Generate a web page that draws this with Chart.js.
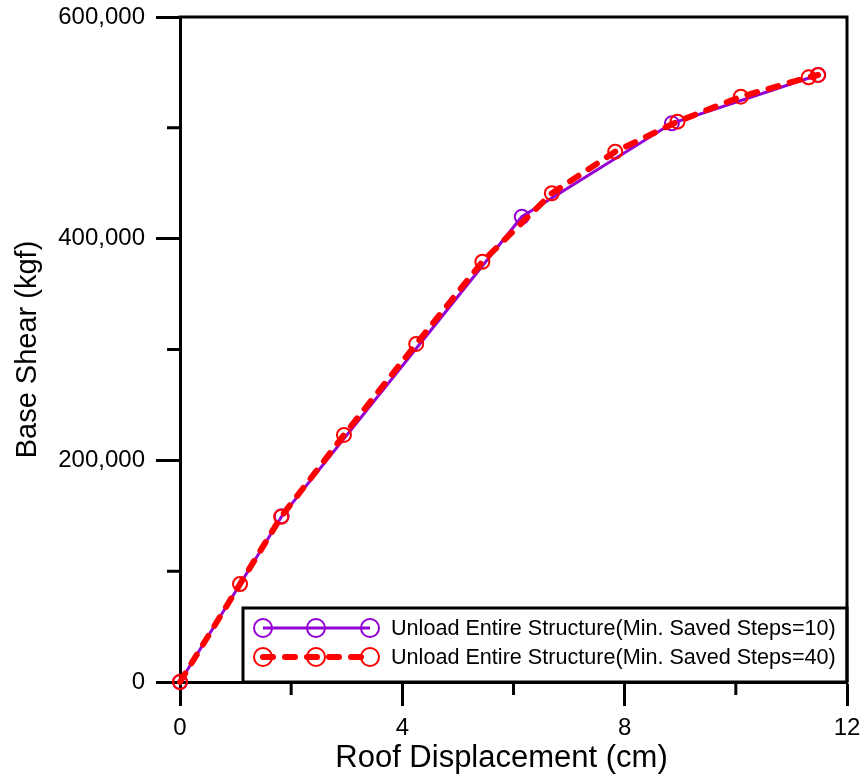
<!DOCTYPE html>
<html>
<head>
<meta charset="utf-8">
<script src="https://cdn.jsdelivr.net/npm/chart.js@4/dist/chart.umd.min.js"></script>
<style>
  html, body { margin: 0; padding: 0; background: #fff; }
  #wrap { width: 862px; height: 780px; }
</style>
</head>
<body>
<div id="wrap"><canvas id="pushover" width="862" height="780"></canvas></div>
<script>
// Pushover curves: roof displacement (cm) vs base shear (kgf)
const steps10Disp  = [0, 1.83, 6.15, 8.85, 11.48];
const steps10Shear = [0, 149500, 419800, 504100, 547700];

const steps40Disp  = [0, 1.08, 1.82, 2.95, 4.25, 5.44, 6.69, 7.83, 8.95, 10.09, 11.31, 11.48];
const steps40Shear = [0, 88400, 149100, 222900, 305000, 379200, 441000, 478500, 505600, 528100, 545600, 547700];

const seriesLabels = [
  'Unload Entire Structure(Min. Saved Steps=10)',
  'Unload Entire Structure(Min. Saved Steps=40)'
];

const xTitle = 'Roof Displacement (cm)';
const yTitle = 'Base Shear (kgf)';

const xTicks = [0, 4, 8, 12];
const xMinorTicks = [2, 6, 10];
const yTicks = [0, 200000, 400000, 600000];
const yMinorTicks = [100000, 300000, 500000];

const PURPLE = '#9400d3';
const RED = '#ff0000';
const FONT = '"Liberation Sans", Arial, sans-serif';
const TICK_LEN = 24;

const toPoints = (xs, ys) => xs.map((x, i) => ({ x: x, y: ys[i] }));

// short outside ticks, top/right frame lines, x axis title
const frameAndMinor = {
  id: 'frameAndMinor',
  afterDraw(chart) {
    const { ctx, chartArea } = chart;
    const xs = chart.scales.x;
    const ys = chart.scales.y;
    ctx.save();
    ctx.strokeStyle = '#000';
    ctx.lineWidth = 3;
    ctx.beginPath();
    ctx.moveTo(chartArea.left - 1.5, chartArea.top);
    ctx.lineTo(chartArea.right, chartArea.top);
    ctx.lineTo(chartArea.right, chartArea.bottom);
    ctx.stroke();
    ctx.beginPath();
    xMinorTicks.forEach(v => {
      const px = xs.getPixelForValue(v);
      ctx.moveTo(px, chartArea.bottom);
      ctx.lineTo(px, chartArea.bottom + 13);
    });
    yMinorTicks.forEach(v => {
      const py = ys.getPixelForValue(v);
      ctx.moveTo(chartArea.left, py);
      ctx.lineTo(chartArea.left - 13, py);
    });
    ctx.stroke();

    // centred under the axis including the long tick stubs on the left
    ctx.fillStyle = '#000';
    ctx.font = '31px ' + FONT;
    ctx.textAlign = 'center';
    ctx.textBaseline = 'middle';
    ctx.fillText(xTitle, (chartArea.left - TICK_LEN + chartArea.right) / 2, xs.bottom - 22);
    ctx.restore();
  }
};

// boxed legend in the lower right corner, three markers per sample line
const boxLegend = {
  id: 'boxLegend',
  afterDatasetsDraw(chart) {
    const { ctx, chartArea } = chart;
    const w = 604, h = 74;
    const x0 = chartArea.right - w;
    const y0 = chartArea.bottom - h;
    ctx.save();
    ctx.fillStyle = '#fff';
    ctx.fillRect(x0, y0, w, h);
    ctx.strokeStyle = '#000';
    ctx.lineWidth = 3;
    ctx.strokeRect(x0, y0, w, h);

    chart.data.datasets.forEach((ds, i) => {
      const y = y0 + 20 + i * 29;
      const marks = [x0 + 20, x0 + 73, x0 + 127];
      ctx.strokeStyle = ds.borderColor;
      ctx.lineWidth = ds.borderWidth;
      ctx.lineCap = ds.borderCapStyle || 'butt';
      ctx.setLineDash(ds.borderDash || []);
      ctx.beginPath();
      ctx.moveTo(marks[0], y);
      ctx.lineTo(marks[2], y);
      ctx.stroke();
      ctx.setLineDash([]);
      ctx.lineWidth = 2;
      marks.forEach(mx => {
        ctx.beginPath();
        ctx.arc(mx, y, 9, 0, Math.PI * 2);
        ctx.stroke();
      });
      ctx.fillStyle = '#000';
      ctx.font = '21.6px ' + FONT;
      ctx.textBaseline = 'middle';
      ctx.fillText(ds.label, x0 + 148, y + 1);
    });
    ctx.restore();
  }
};

new Chart(document.getElementById('pushover'), {
  type: 'line',
  data: {
    datasets: [
      {
        label: seriesLabels[0],
        data: toPoints(steps10Disp, steps10Shear),
        borderColor: PURPLE,
        borderWidth: 3,
        pointRadius: 7,
        pointBorderWidth: 2,
        pointBorderColor: PURPLE,
        pointBackgroundColor: 'rgba(0,0,0,0)',
        tension: 0,
        clip: false,
        order: 2
      },
      {
        label: seriesLabels[1],
        data: toPoints(steps40Disp, steps40Shear),
        borderColor: RED,
        borderWidth: 6,
        borderDash: [10, 12],
        borderCapStyle: 'round',
        pointRadius: 7,
        pointBorderWidth: 2,
        pointBorderColor: RED,
        pointBackgroundColor: 'rgba(0,0,0,0)',
        tension: 0,
        clip: false,
        order: 1
      }
    ]
  },
  options: {
    responsive: false,
    devicePixelRatio: 1,
    animation: false,
    layout: { padding: { top: 17, right: 15, left: 0, bottom: 0 } },
    plugins: {
      legend: { display: false },
      tooltip: { enabled: false }
    },
    scales: {
      x: {
        type: 'linear',
        min: 0,
        max: 12,
        afterBuildTicks: s => { s.ticks = xTicks.map(v => ({ value: v })); },
        afterFit: s => {
          s.height = 98;
          s.paddingLeft = 0;
          s.paddingRight = 0;
        },
        ticks: {
          color: '#000',
          padding: 8,
          maxRotation: 0,
          font: { family: FONT, size: 24 }
        },
        grid: {
          drawOnChartArea: false,
          drawTicks: true,
          tickLength: TICK_LEN,
          tickWidth: 3,
          tickColor: '#000'
        },
        border: { display: true, color: '#000', width: 3 }
      },
      y: {
        type: 'linear',
        min: 0,
        max: 600000,
        afterBuildTicks: s => { s.ticks = yTicks.map(v => ({ value: v })); },
        afterFit: s => {
          s.width = 180;
          s.paddingTop = 0;
          s.paddingBottom = 0;
        },
        ticks: {
          color: '#000',
          padding: 11,
          callback: v => v.toLocaleString('en-US'),
          font: { family: FONT, size: 24 }
        },
        grid: {
          drawOnChartArea: false,
          drawTicks: true,
          tickLength: TICK_LEN,
          tickWidth: 3,
          tickColor: '#000'
        },
        border: { display: true, color: '#000', width: 3 },
        title: {
          display: true,
          text: yTitle,
          color: '#000',
          padding: { top: 11, bottom: 4 },
          font: { family: FONT, size: 29, weight: 'normal' }
        }
      }
    }
  },
  plugins: [boxLegend, frameAndMinor]
});
</script>
</body>
</html>
